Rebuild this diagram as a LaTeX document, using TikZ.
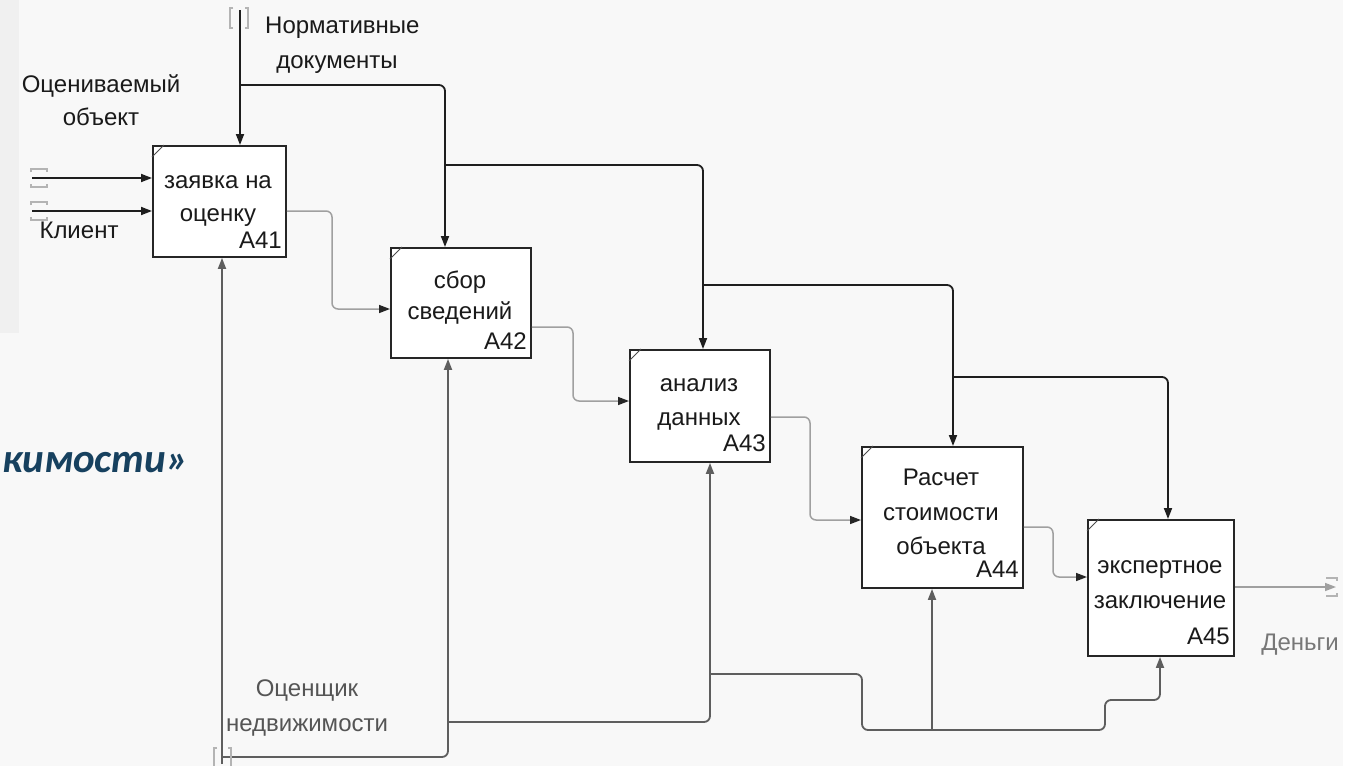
\documentclass[tikz,border=0pt]{standalone}
\usepackage{fontspec}
\setmainfont{Liberation Sans}
\newfontfamily\titlefont{Carlito}
\usetikzlibrary{arrows.meta}
\definecolor{ctrlc}{HTML}{1E1E1E}
\definecolor{mechc}{HTML}{5E5E5E}
\definecolor{flowc}{HTML}{A0A0A0}
\definecolor{tunnelc}{HTML}{B4B4B4}
\definecolor{titleblue}{HTML}{17415F}
\definecolor{bgc}{HTML}{F8F8F8}
\definecolor{bgleft}{HTML}{F0F0F0}
\definecolor{txtc}{HTML}{1A1A1A}
\definecolor{graytxt}{HTML}{555555}
\begin{document}
\begin{tikzpicture}[x=1pt,y=-1pt,
  >={Triangle[length=11pt,width=8pt]},
  lbl/.style={font=\fontsize{24}{28}\selectfont, inner sep=0pt, text=txtc},
  actbox/.style={draw=black!85, line width=1.9pt, fill=white, inner sep=0pt, anchor=north west},
  ctrlline/.style={draw=ctrlc, line width=1.8pt, rounded corners=6pt},
  mechline/.style={draw=mechc, line width=1.8pt, rounded corners=6pt},
  flowline/.style={draw=flowc, line width=1.5pt, rounded corners=6pt},
  darktip/.style={-{Triangle[length=11pt,width=8pt,color=black!85]}},
  tunnel/.style={draw=tunnelc, line width=1.3pt},
  corner/.style={draw=black!70, line width=1pt}]
\useasboundingbox (0,0) rectangle (1357,766);
% background
\fill[bgc] (0,0) rectangle (1343,766);
\fill[white] (1343,0) rectangle (1357,766);
\fill[bgleft] (0,0) rectangle (19,333);

% title fragment
\node[font=\titlefont\bfseries\itshape\fontsize{41}{47}\selectfont, text=titleblue, anchor=base west, inner sep=0pt] (ttl) at (2,472) {кимости»};

% activity boxes
\node[actbox, minimum width=133pt, minimum height=111pt] (a1) at (152,145) {};
\node[actbox, minimum width=140pt, minimum height=110pt] (a2) at (390,247) {};
\node[actbox, minimum width=140pt, minimum height=112pt] (a3) at (629,349) {};
\node[actbox, minimum width=161pt, minimum height=141pt] (a4) at (861,446) {};
\node[actbox, minimum width=146pt, minimum height=136pt] (a5) at (1087,519) {};
\foreach \b in {a1,a2,a3,a4,a5}{
  \draw[corner] ([yshift=-12pt]\b.north west) -- ([xshift=12pt]\b.north west);
}

% box texts
\node[lbl, anchor=base] (t1a) at (218,188) {заявка на};
\node[lbl, anchor=base] (t1b) at (218,221) {оценку};
\node[lbl, anchor=base east] (n1) at (282,248) {A41};
\node[lbl, anchor=base] (t2a) at (460,288) {сбор};
\node[lbl, anchor=base] (t2b) at (460,319) {сведений};
\node[lbl, anchor=base east] (n2) at (527,349) {A42};
\node[lbl, anchor=base] (t3a) at (699,391) {анализ};
\node[lbl, anchor=base] (t3b) at (699,425) {данных};
\node[lbl, anchor=base east] (n3) at (766,451) {A43};
\node[lbl, anchor=base] (t4a) at (941,485) {Расчет};
\node[lbl, anchor=base] (t4b) at (941,520) {стоимости};
\node[lbl, anchor=base] (t4c) at (941,554) {объекта};
\node[lbl, anchor=base east] (n4) at (1019,577) {A44};
\node[lbl, anchor=base] (t5a) at (1160,573) {экспертное};
\node[lbl, anchor=base] (t5b) at (1160,608) {заключение};
\node[lbl, anchor=base east] (n5) at (1230,644) {A45};

% arrow labels
\node[lbl, anchor=base west] (lnorm1) at (265,33) {Нормативные};
\node[lbl, anchor=base] (lnorm2) at (337,68) {документы};
\node[lbl, anchor=base] (lobj1) at (101,92) {Оцениваемый};
\node[lbl, anchor=base] (lobj2) at (101,125) {объект};
\node[lbl, anchor=base] (lcli) at (79,238) {Клиент};
\node[lbl, anchor=base, text=graytxt] (lmech1) at (307,696) {Оценщик};
\node[lbl, anchor=base, text=graytxt] (lmech2) at (307,731) {недвижимости};
\node[lbl, anchor=base, text=graytxt!80] (lout) at (1300,650) {Деньги};

% coordinates
\coordinate (ctop) at (240,10);
\coordinate (j1) at (240,85);
\coordinate (c2) at (445,85);
\coordinate (j2) at (445,165);
\coordinate (c3) at (703,165);
\coordinate (j3) at (703,285);
\coordinate (c4) at (953,285);
\coordinate (j4) at (953,377);
\coordinate (c5) at (1168,377);

\coordinate (in1) at (32,178);
\coordinate (in2) at (32,211);

\coordinate (f1) at (332,211);
\coordinate (g1) at (332,309);
\coordinate (f2) at (573,327);
\coordinate (g2) at (573,401);
\coordinate (f3) at (810,417);
\coordinate (g3) at (810,520);
\coordinate (f4) at (1053,527);
\coordinate (g4) at (1053,577);
\coordinate (outend) at (1336,587);

\coordinate (msrc) at (222,764);
\coordinate (m1) at (222,757);
\coordinate (m2) at (448,757);
\coordinate (m3) at (448,722);
\coordinate (m4) at (710,722);
\coordinate (m5) at (710,674);
\coordinate (m6) at (862,674);
\coordinate (m7) at (862,730);
\coordinate (m8) at (1105,730);
\coordinate (m9) at (1105,700);
\coordinate (m10) at (1160,700);
\coordinate (m11) at (932,730);

% control arrows
\draw[ctrlline,->] (ctop) -- (ctop |- a1.north);
\draw[ctrlline,->] (j1) -- (c2) -- (c2 |- a2.north);
\draw[ctrlline,->] (j2) -- (c3) -- (c3 |- a3.north);
\draw[ctrlline,->] (j3) -- (c4) -- (c4 |- a4.north);
\draw[ctrlline,->] (j4) -- (c5) -- (c5 |- a5.north);

% inputs
\draw[ctrlline,->] (in1) -- (in1 -| a1.west);
\draw[ctrlline,->] (in2) -- (in2 -| a1.west);

% flows between boxes
\draw[flowline,darktip] (f1 -| a1.east) -- (f1) -- (g1) -- (g1 -| a2.west);
\draw[flowline,darktip] (f2 -| a2.east) -- (f2) -- (g2) -- (g2 -| a3.west);
\draw[flowline,darktip] (f3 -| a3.east) -- (f3) -- (g3) -- (g3 -| a4.west);
\draw[flowline,darktip] (f4 -| a4.east) -- (f4) -- (g4) -- (g4 -| a5.west);
\draw[flowline,->] (outend -| a5.east) -- (outend);

% mechanism arrows
\draw[mechline,->] (msrc) -- (msrc |- a1.south);
\draw[mechline,->] (m1) -- (m2) -- (m2 |- a2.south);
\draw[mechline,->] (m3) -- (m4) -- (m4 |- a3.south);
\draw[mechline,->] (m5) -- (m6) -- (m7) -- (m8) -- (m9) -- (m10) -- (m10 |- a5.south);
\draw[mechline,->] (m11) -- (m11 |- a4.south);

% tunnel brackets
\draw[tunnel] (233,8) -- (230,8) -- (230,28) -- (233,28);
\draw[tunnel] (245,8) -- (248,8) -- (248,28) -- (245,28);
\foreach \yy in {178,211}{
  \draw[tunnel] (31,\yy-6) -- (31,\yy-9) -- (47,\yy-9) -- (47,\yy-6);
  \draw[tunnel] (31,\yy+6) -- (31,\yy+9) -- (47,\yy+9) -- (47,\yy+6);
}
\draw[tunnel] (217,748) -- (214,748) -- (214,766);
\draw[tunnel] (228,748) -- (231,748) -- (231,766);
\draw[tunnel] (1326,578) -- (1337,578) -- (1337,581);
\draw[tunnel] (1326,596) -- (1337,596) -- (1337,593);
\end{tikzpicture}
\end{document}
